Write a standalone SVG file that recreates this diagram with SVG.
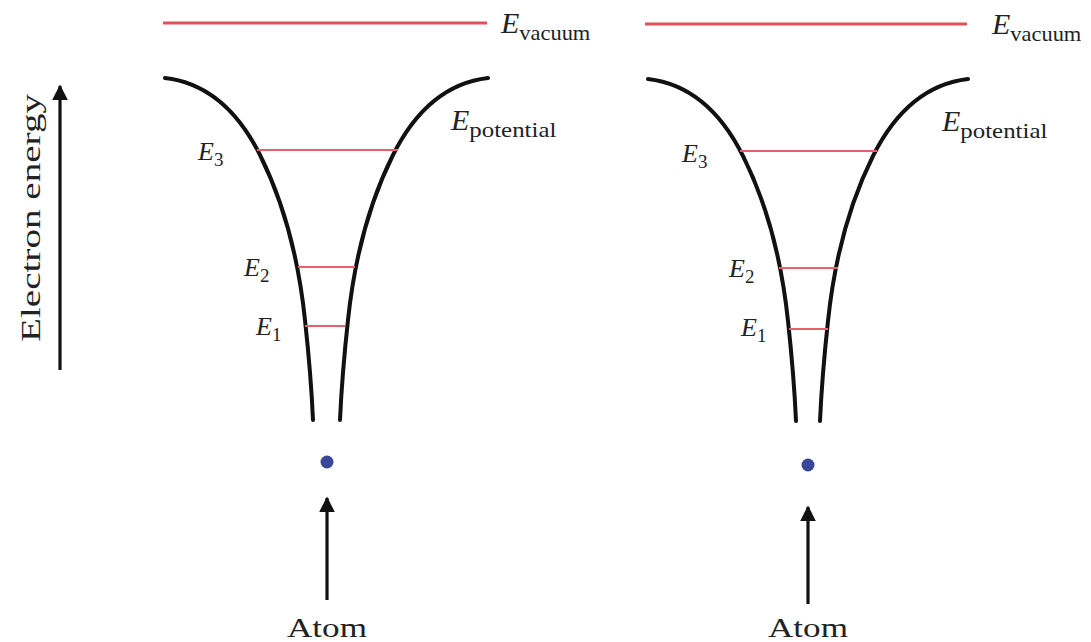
<svg xmlns="http://www.w3.org/2000/svg" width="1091" height="642" viewBox="0 0 1091 642">
<defs>
<style>
.curve{fill:none;stroke:#111;stroke-width:4;stroke-linecap:round}
.vac{stroke:#e0505a;stroke-width:3.2}
.lvl{stroke:#e8606c;stroke-width:2}
.arrow{stroke:#111;stroke-width:3.2;fill:none}
text{font-family:"Liberation Serif","DejaVu Serif",serif;fill:#222}
.E{font-style:italic;font-size:30px}
.sub{font-size:22px;font-style:normal}
.lab{font-size:28px}
.En{font-style:italic;font-size:26px}
.ns{font-size:19px;font-style:normal}
</style>
<marker id="ah" viewBox="0 0 10 10" refX="9" refY="5" markerWidth="5" markerHeight="5" markerUnits="strokeWidth" orient="auto">
<path d="M0,0 L10,5 L0,10 z" fill="#111"/>
</marker>
</defs>
<rect width="1091" height="642" fill="#fff"/>
<g id="axis">
<line class="arrow" x1="60" y1="370" x2="60" y2="86" marker-end="url(#ah)"/>
<text class="lab" transform="translate(40,218) rotate(-90)" text-anchor="middle" textLength="248" lengthAdjust="spacingAndGlyphs">Electron energy</text>
</g>
<g id="panel-left">
<line class="vac" x1="163" y1="23" x2="487" y2="23"/>
<text x="501" y="33" class="E">E<tspan class="sub" dy="7" textLength="71" lengthAdjust="spacingAndGlyphs">vacuum</tspan></text>
<path class="curve" d="M165,78 Q225,85 260,155 Q295,225 305,320 Q311,375 313,420"/>
<path class="curve" d="M488,78 Q428,85 393,155 Q358,225 348,320 Q342,375 340,420"/>
<text x="451" y="130" class="E">E<tspan class="sub" dy="7" textLength="87" lengthAdjust="spacingAndGlyphs">potential</tspan></text>
<line class="lvl" x1="257" y1="150" x2="398" y2="150"/>
<line class="lvl" x1="298" y1="267" x2="355" y2="267"/>
<line class="lvl" x1="305" y1="326" x2="345" y2="326"/>
<text x="198" y="160" class="En">E<tspan class="ns" dy="6">3</tspan></text>
<text x="244" y="276" class="En">E<tspan class="ns" dy="6">2</tspan></text>
<text x="256" y="335" class="En">E<tspan class="ns" dy="6">1</tspan></text>
<circle cx="327" cy="462" r="6.5" fill="#3a4699"/>
<line class="arrow" x1="327" y1="600" x2="327" y2="498" marker-end="url(#ah)"/>
<text x="327" y="637" class="lab" text-anchor="middle" textLength="80" lengthAdjust="spacingAndGlyphs">Atom</text>
</g>
<g id="panel-right" transform="translate(481,1)">
<line class="vac" x1="164" y1="23" x2="486" y2="23"/>
<text x="511" y="33" class="E">E<tspan class="sub" dy="7" textLength="71" lengthAdjust="spacingAndGlyphs">vacuum</tspan></text>
<path class="curve" d="M167,78 Q227,85 262,155 Q297,225 307,320 Q313,375 315,420"/>
<path class="curve" d="M487,78 Q427,85 392,155 Q357,225 347,320 Q341,375 339,420"/>
<text x="461" y="130" class="E">E<tspan class="sub" dy="7" textLength="87" lengthAdjust="spacingAndGlyphs">potential</tspan></text>
<line class="lvl" x1="259" y1="150" x2="396" y2="150"/>
<line class="lvl" x1="298" y1="267" x2="357" y2="267"/>
<line class="lvl" x1="308" y1="328" x2="347" y2="328"/>
<text x="201" y="161" class="En">E<tspan class="ns" dy="6">3</tspan></text>
<text x="248" y="276" class="En">E<tspan class="ns" dy="6">2</tspan></text>
<text x="260" y="335" class="En">E<tspan class="ns" dy="6">1</tspan></text>
<circle cx="327" cy="464" r="6.5" fill="#3a4699"/>
<line class="arrow" x1="327" y1="603" x2="327" y2="506" marker-end="url(#ah)"/>
<text x="327" y="636" class="lab" text-anchor="middle" textLength="80" lengthAdjust="spacingAndGlyphs">Atom</text>
</g>
</svg>
